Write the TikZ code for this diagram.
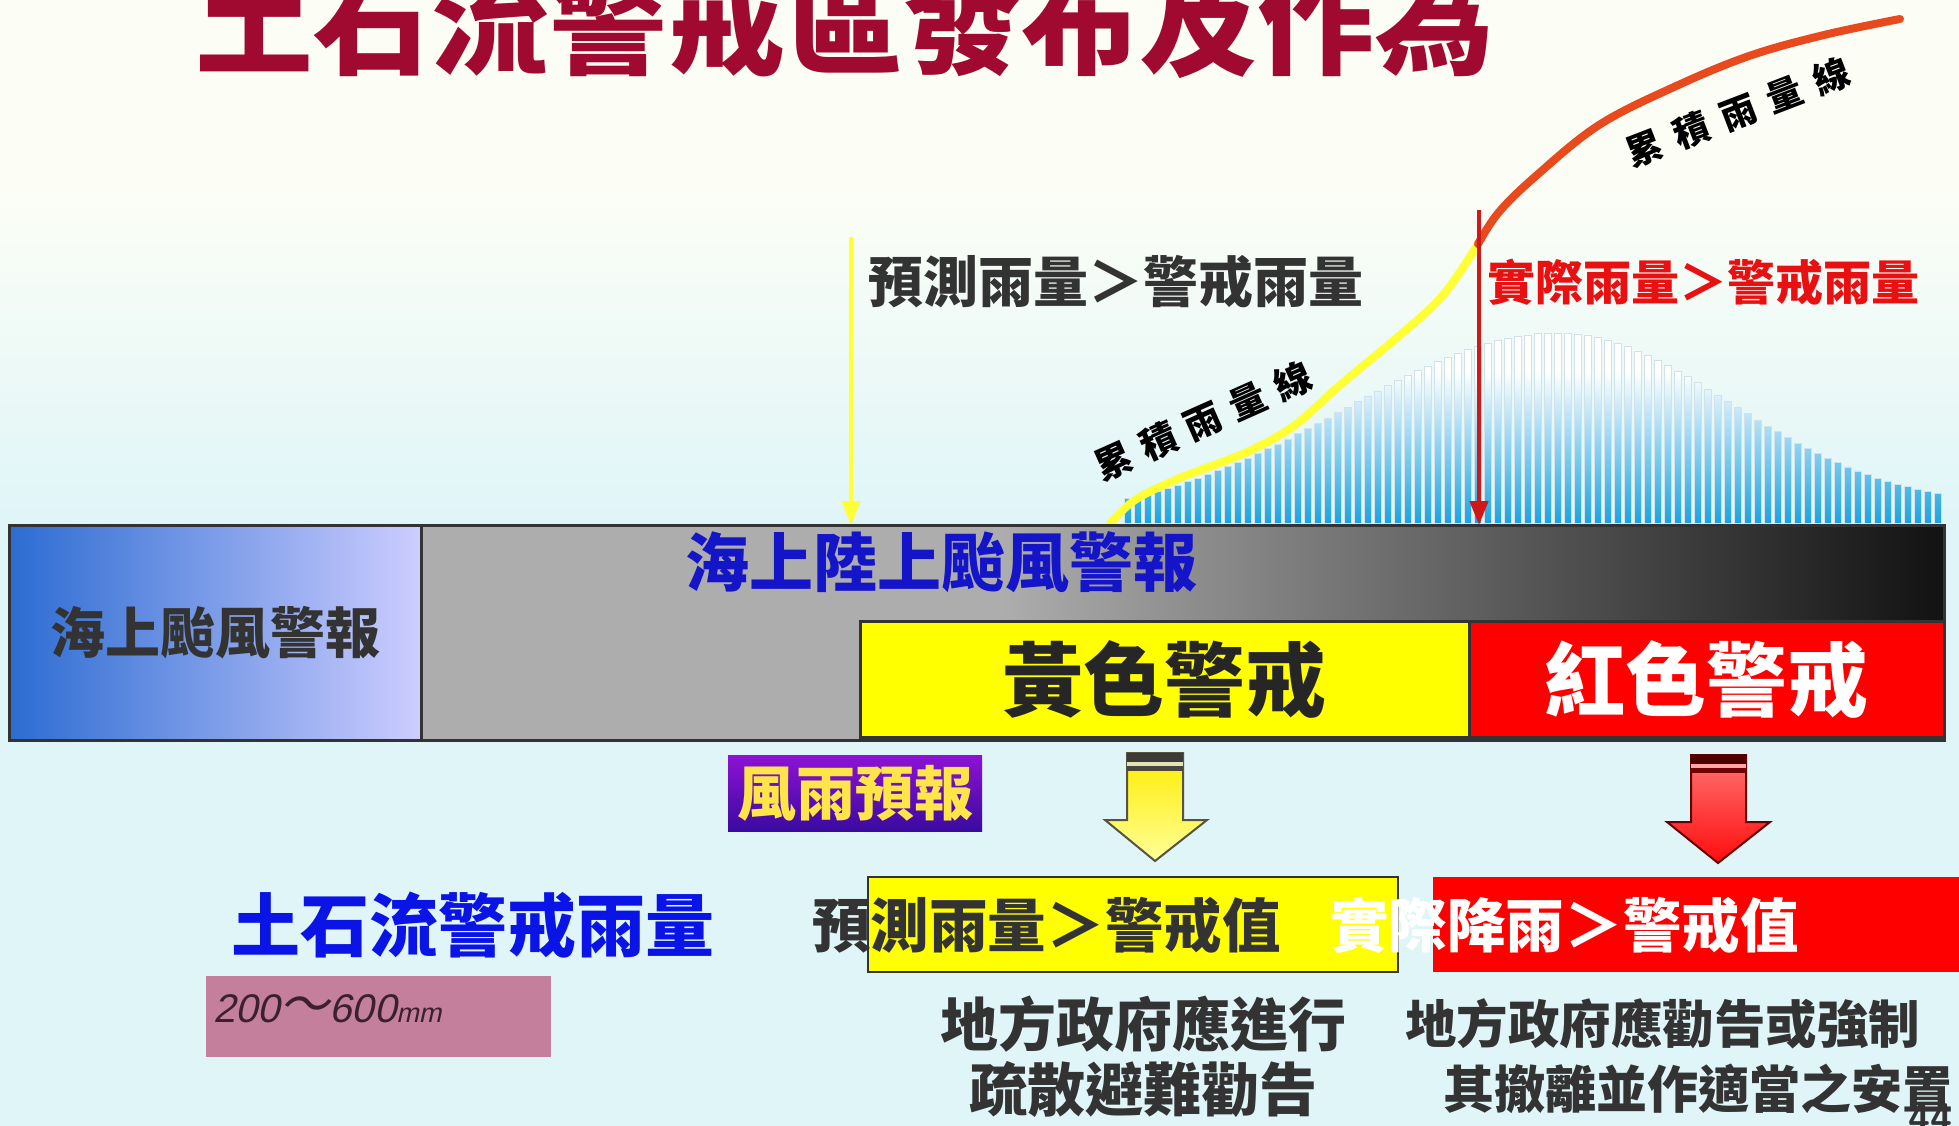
\documentclass[tikz,border=0pt]{standalone}
\usepackage{fontspec}
\usetikzlibrary{arrows.meta}
\newfontfamily\cjk{Noto Sans CJK TC}
\newfontfamily\cjkit{Noto Sans CJK TC}[FakeSlant=0.22]
\newfontfamily\numit{Liberation Sans}[FakeSlant=0.22]
\newcommand\myfs[1]{\fontsize{#1}{#1}\selectfont}
\definecolor{bgtop}{HTML}{FCFEF6}
\definecolor{bgbot}{HTML}{DFF5F8}
\definecolor{titlered}{HTML}{A00A30}
\definecolor{txtgray}{HTML}{333333}
\definecolor{barblue}{HTML}{1AA2E2}
\definecolor{barline}{HTML}{D2E2EA}
\definecolor{curveyel}{HTML}{FFFF33}
\definecolor{curvered}{HTML}{E84A1E}
\definecolor{arrred}{HTML}{D01818}
\definecolor{boxgray}{HTML}{ADADAD}
\definecolor{midgray}{HTML}{5E5E5E}
\definecolor{seablue}{HTML}{2C6CD2}
\definecolor{seapale}{HTML}{CDCDFF}
\definecolor{landblue}{HTML}{1414C8}
\definecolor{warnyel}{HTML}{FFFF00}
\definecolor{warnred}{HTML}{FF0000}
\definecolor{purtop}{HTML}{8E12D4}
\definecolor{purbot}{HTML}{3A0AA0}
\definecolor{gold}{HTML}{FFE44A}
\definecolor{pinkbox}{HTML}{C37F9B}
\definecolor{pinktxt}{HTML}{3B2030}
\definecolor{debrisblue}{HTML}{0A14E6}
\definecolor{redtxt}{HTML}{E81010}
\tikzset{
  cjktext/.style={inner sep=0pt, outer sep=0pt},
  outline/.style={draw=txtgray, line width=3pt},
  thinarrow/.style={line width=4.5pt, -{Triangle[width=18pt,length=24pt]}},
  curve/.style={line width=8pt, line cap=round, line join=round},
}
\begin{document}
\begin{tikzpicture}[x=1pt,y=-1pt]
\useasboundingbox (0,0) rectangle (1959,1126);
\clip (0,0) rectangle (1959,1126);
% background
\fill[bgtop] (0,0) rectangle (1959,190);
\shade[top color=bgtop, bottom color=bgbot] (0,189) rectangle (1959,526);
\fill[bgbot] (0,525) rectangle (1959,1126);

% title
\node[cjktext, anchor=base, text=titlered, font={\cjk\bfseries\myfs{118}}] (title) at (844,66) {土石流警戒區發布及作為};

% rain bars
\begin{scope}
\clip \foreach \x [evaluate=\x as \h using (\x<1555)?190*exp(-((\x-1555)/300)*((\x-1555)/300)):15+175*exp(-((\x-1555)/240)*((\x-1555)/240))] in {1124,1134,...,1934} {(\x,523) rectangle ++(7,-\h)};
\fill[white] (1100,300) rectangle (1950,524);
\shade[bottom color=barblue, top color=white] (1100,524) rectangle (1950,372);
\end{scope}
\foreach \x [evaluate=\x as \h using (\x<1555)?190*exp(-((\x-1555)/300)*((\x-1555)/300)):15+175*exp(-((\x-1555)/240)*((\x-1555)/240))] in {1124,1134,...,1934} {
  \draw[barline, line width=0.8pt] (\x,523) -- ++(0,-\h) -- ++(7,0) -- ++(0,\h);
}

% cumulative rain curves
\coordinate (cstart) at (1110,524);
\coordinate (cmid) at (1478,244);
\coordinate (cend) at (1900,19);
\draw[curve, curveyel] plot[smooth, tension=0.6] coordinates {(cstart) (1135,500) (1180,478) (1247,452) (1295,425) (1340,385) (1400,335) (1443,295) (cmid)};
\draw[curve, curvered] plot[smooth, tension=0.6] coordinates {(cmid) (1499,212) (1537,175) (1599,125) (1674,87) (1749,56) (1824,35) (cend)};

\node[cjktext, rotate=24, text=black, font={\cjk\bfseries\myfs{37}}] (cumlow) at (1203,421) {累\hspace{12pt}積\hspace{12pt}雨\hspace{12pt}量\hspace{12pt}線};
\node[cjktext, rotate=21, text=black, font={\cjk\bfseries\myfs{36}}] (cumhigh) at (1738,112) {累\hspace{14pt}積\hspace{14pt}雨\hspace{14pt}量\hspace{14pt}線};

% labels above the bar
\node[cjktext, anchor=west, text=txtgray, font={\cjk\bfseries\myfs{55}}] (fcast) at (868,282) {預測雨量＞警戒雨量};
\node[cjktext, anchor=west, text=redtxt, font={\cjk\bfseries\myfs{48}}] (actual) at (1487,282) {實際雨量＞警戒雨量};

% main bar
\node[cjktext, minimum width=412pt, minimum height=215pt, anchor=north west, left color=seablue, right color=seapale] (sea) at (9,525) {};
\node[cjktext, fill=boxgray, minimum width=729pt, minimum height=215pt, anchor=north west] (land) at (421,525) {};
\node[cjktext, minimum width=944pt, minimum height=96pt, anchor=north west, left color=boxgray, middle color=midgray, right color=black!93] (landdark) at (1000,525) {};
\node[cjktext, anchor=center, text=txtgray, font={\cjk\bfseries\myfs{55}}] (sealabel) at (sea.center) {海上颱風警報};
\node[cjktext, anchor=center, text=landblue, font={\cjk\bfseries\myfs{64}}] (landlabel) at (941,562) {海上陸上颱風警報};
\node[cjktext, outline, fill=warnyel, minimum width=609pt, minimum height=116pt, anchor=north west] (yelwarn) at (860,621) {};
\node[cjktext, outline, fill=warnred, minimum width=475pt, minimum height=116pt, anchor=north west] (redwarn) at (1469,621) {};
\node[cjktext, text=black!85, font={\cjk\bfseries\myfs{81}}] at (yelwarn.center) {黃色警戒};
\node[cjktext, text=white, font={\cjk\bfseries\myfs{81}}] at (redwarn.center) {紅色警戒};
\draw[outline] (9,525) rectangle (1944,740);
\draw[outline] (421,525) -- (421,740);

% thin arrows
\coordinate (yelstart) at (851,237);
\coordinate (redstart) at (1479,210);
\draw[thinarrow, curveyel] (yelstart) -- (yelstart |- sea.north);
\draw[thinarrow, arrred] (redstart) -- (redstart |- sea.north);

% wind-rain forecast box
\node[cjktext, minimum width=254pt, minimum height=76pt, anchor=north west, top color=purtop, bottom color=purbot] (windrain) at (728,755) {};
\node[cjktext, text=gold, font={\cjk\bfseries\myfs{59}}] at (windrain.center) {風雨預報};

% block arrows
\shade[top color=yellow!85!orange, bottom color=yellow!40, draw=black!60!yellow!60!black, line width=2pt, line join=miter]
  (1127,753) -- (1183,753) -- (1183,820) -- (1207,820) -- (1155,861) -- (1105,820) -- (1127,820) -- cycle;
\fill[black!75!yellow!50!black] (1127,753) rectangle (1183,762);
\fill[yellow!60!black!30] (1127,762) rectangle (1183,766);
\fill[black!70!yellow!60!black] (1127,766) rectangle (1183,771);
\shade[top color=red!55, bottom color=red!95, draw=red!40!black, line width=2pt, line join=miter]
  (1691,755) -- (1746,755) -- (1746,822) -- (1770,822) -- (1718,863) -- (1667,822) -- (1691,822) -- cycle;
\fill[red!30!black] (1691,755) rectangle (1746,764);
\fill[red!35] (1691,764) rectangle (1746,768);
\fill[red!45!black] (1691,768) rectangle (1746,773);

% debris-flow warning rainfall
\node[cjktext, anchor=west, text=debrisblue, font={\cjk\bfseries\myfs{69}}] (debris) at (231,925) {土石流警戒雨量};
\node[cjktext, fill=pinkbox, minimum width=345pt, minimum height=81pt, anchor=north west] (range) at (206,976) {};
\node[cjktext, anchor=west, text=pinktxt] (rangetext) at (213,1009) {\numit\myfs{40}200\cjkit\myfs{50}～\numit\myfs{40}600\myfs{27}mm};

% threshold boxes
\node[cjktext, draw=txtgray, line width=2.5pt, fill=warnyel, minimum width=530pt, minimum height=95pt, anchor=north west] (fcbox) at (868,877) {};
\node[cjktext, fill=warnred, minimum width=530pt, minimum height=95pt, anchor=north west] (acbox) at (1433,877) {};
\node[cjktext, anchor=west, text=txtgray, font={\cjk\bfseries\myfs{58.6}}] (fctext) at (812,925) {預測雨量＞警戒值};
\node[cjktext, anchor=west, text=white, font={\cjk\bfseries\myfs{58.6}}] (actext) at (1330,925) {實際降雨＞警戒值};

% actions
\node[cjktext, text=txtgray, font={\cjk\bfseries\myfs{58}}] (act1a) at (1143,1024) {地方政府應進行};
\node[cjktext, text=txtgray, font={\cjk\bfseries\myfs{58}}] (act1b) at (1143,1089) {疏散避難勸告};
\node[cjktext, anchor=west, text=txtgray, font={\cjk\bfseries\myfs{51.5}}] (act2a) at (1405,1024) {地方政府應勸告或強制};
\node[cjktext, anchor=west, text=txtgray, font={\cjk\bfseries\myfs{51}}] (act2b) at (1443,1089) {其撤離並作適當之安置};
\node[cjktext, anchor=north, text=txtgray, font={\sffamily\bfseries\myfs{40}}] (pagenum) at (1930,1104) {44};
\end{tikzpicture}
\end{document}
